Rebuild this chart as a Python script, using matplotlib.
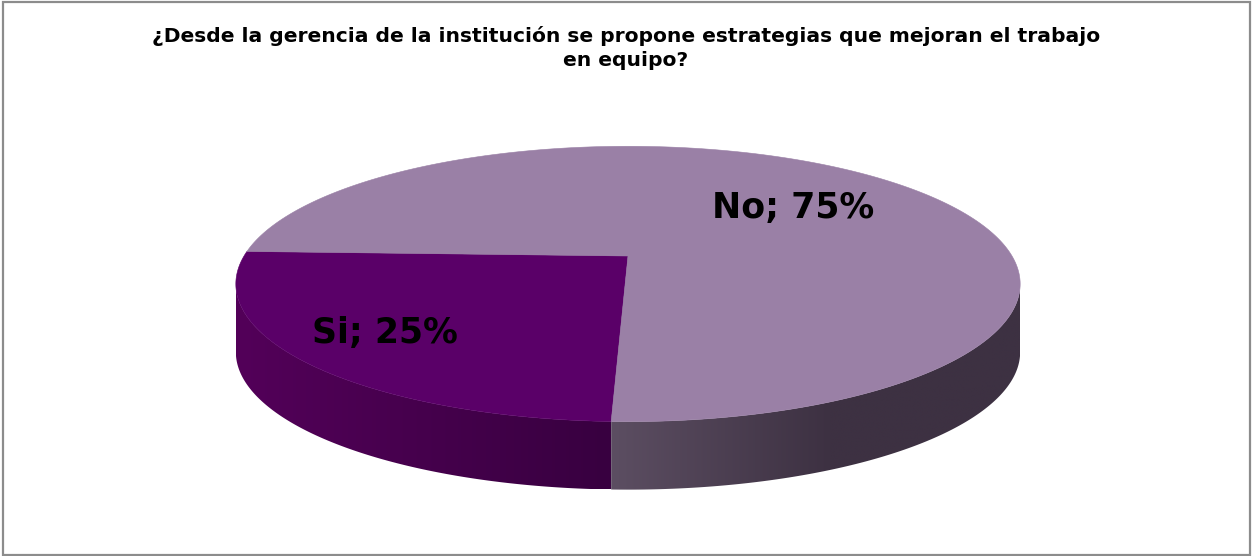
import numpy as np
import matplotlib
matplotlib.use("Agg")
import matplotlib.pyplot as plt
from matplotlib.patches import Rectangle, Polygon
from matplotlib.colors import LinearSegmentedColormap

# Survey answers
labels = ["Si", "No"]
values = [25, 75]
top_colors = ["#5A0068", "#9A80A6"]
title = ("¿Desde la gerencia de la institución se propone estrategias que mejoran el trabajo\n"
         "en equipo?")

# Side shading (left colour, right colour) for each slice
side_left = ["#530059", "#5C4E62"]
side_right = ["#380040", "#3D3142"]

W, H = 1252, 556
fig = plt.figure(figsize=(W / 100, H / 100), dpi=100)
ax = fig.add_axes([0, 0, 1, 1])
ax.set_xlim(0, W)
ax.set_ylim(H, 0)
ax.axis("off")

# Perspective disc geometry (pixel space)
CX, CY = 628, 256
RX, RY = 384, 132
P = 0.203
DEPTH = 68
START = 178.0
# angles where the rim's silhouette is vertical (leftmost / rightmost points)
SIL_L = 180.0 + np.degrees(np.arcsin(P))
SIL_R = 360.0 - np.degrees(np.arcsin(P))


def project(theta_deg, drop=0.0):
    t = np.radians(theta_deg)
    d = 1 + P * np.sin(t)
    return CX + RX * np.cos(t) / d, CY - RY * np.sin(t) / d + drop


# slice angle ranges
bounds = START + 360.0 * np.concatenate([[0], np.cumsum(values)]) / np.sum(values)
spans = list(zip(bounds[:-1], bounds[1:]))

# sides (front half only), filled with a horizontal gradient clipped to the outline
for i, (a0, a1) in enumerate(spans):
    lo, hi = max(a0, SIL_L), min(a1, SIL_R)
    if hi <= lo:
        continue
    th = np.linspace(lo, hi, 300)
    xt, yt = project(th)
    xb, yb = project(th[::-1], DEPTH)
    verts = np.column_stack([np.concatenate([xt, xb]), np.concatenate([yt, yb])])
    outline = Polygon(verts, closed=True, facecolor="none", edgecolor="none")
    ax.add_patch(outline)
    x0, x1 = verts[:, 0].min(), verts[:, 0].max()
    y0, y1 = verts[:, 1].min(), verts[:, 1].max()
    xs = np.linspace(x0, x1, 400)
    if i == 0:
        f = (xs - x0) / (x1 - x0)
    else:
        f = np.clip((xs - x0) / 220.0, 0, 1)
    cmap = LinearSegmentedColormap.from_list(f"side{i}", [side_left[i], side_right[i]])
    im = ax.imshow(f[None, :], cmap=cmap, vmin=0, vmax=1, aspect="auto",
                   extent=(x0, x1, y1, y0), interpolation="bilinear", zorder=1)
    im.set_clip_path(outline)

ax.set_xlim(0, W)
ax.set_ylim(H, 0)

# top faces
for i, (a0, a1) in enumerate(spans):
    th = np.linspace(a0, a1, 400)
    xs, ys = project(th)
    ax.fill(np.concatenate([[CX], xs]), np.concatenate([[CY], ys]),
            facecolor=top_colors[i], edgecolor=top_colors[i], linewidth=0.4, zorder=2)

# data labels
label_pos = [(385, 333), (793, 208)]
for (lx, ly), lab, v in zip(label_pos, labels, values):
    ax.text(lx, ly, f"{lab}; {v}%", ha="center", va="center",
            fontsize=25, fontweight="bold", family="DejaVu Sans", color="black", zorder=3)

fig.text(626 / W, 1 - 48 / H, title, ha="center", va="center", fontsize=14.6,
         fontweight="bold", family="DejaVu Sans", linespacing=1.38)

fig.patches.append(Rectangle((2.5 / W, 1.5 / H), (1250 - 2.5) / W, (554.5 - 1.5) / H,
                             transform=fig.transFigure, fill=False,
                             edgecolor="#8C8C8C", linewidth=1.6))

fig.savefig("out.png", dpi=100, facecolor="white")
